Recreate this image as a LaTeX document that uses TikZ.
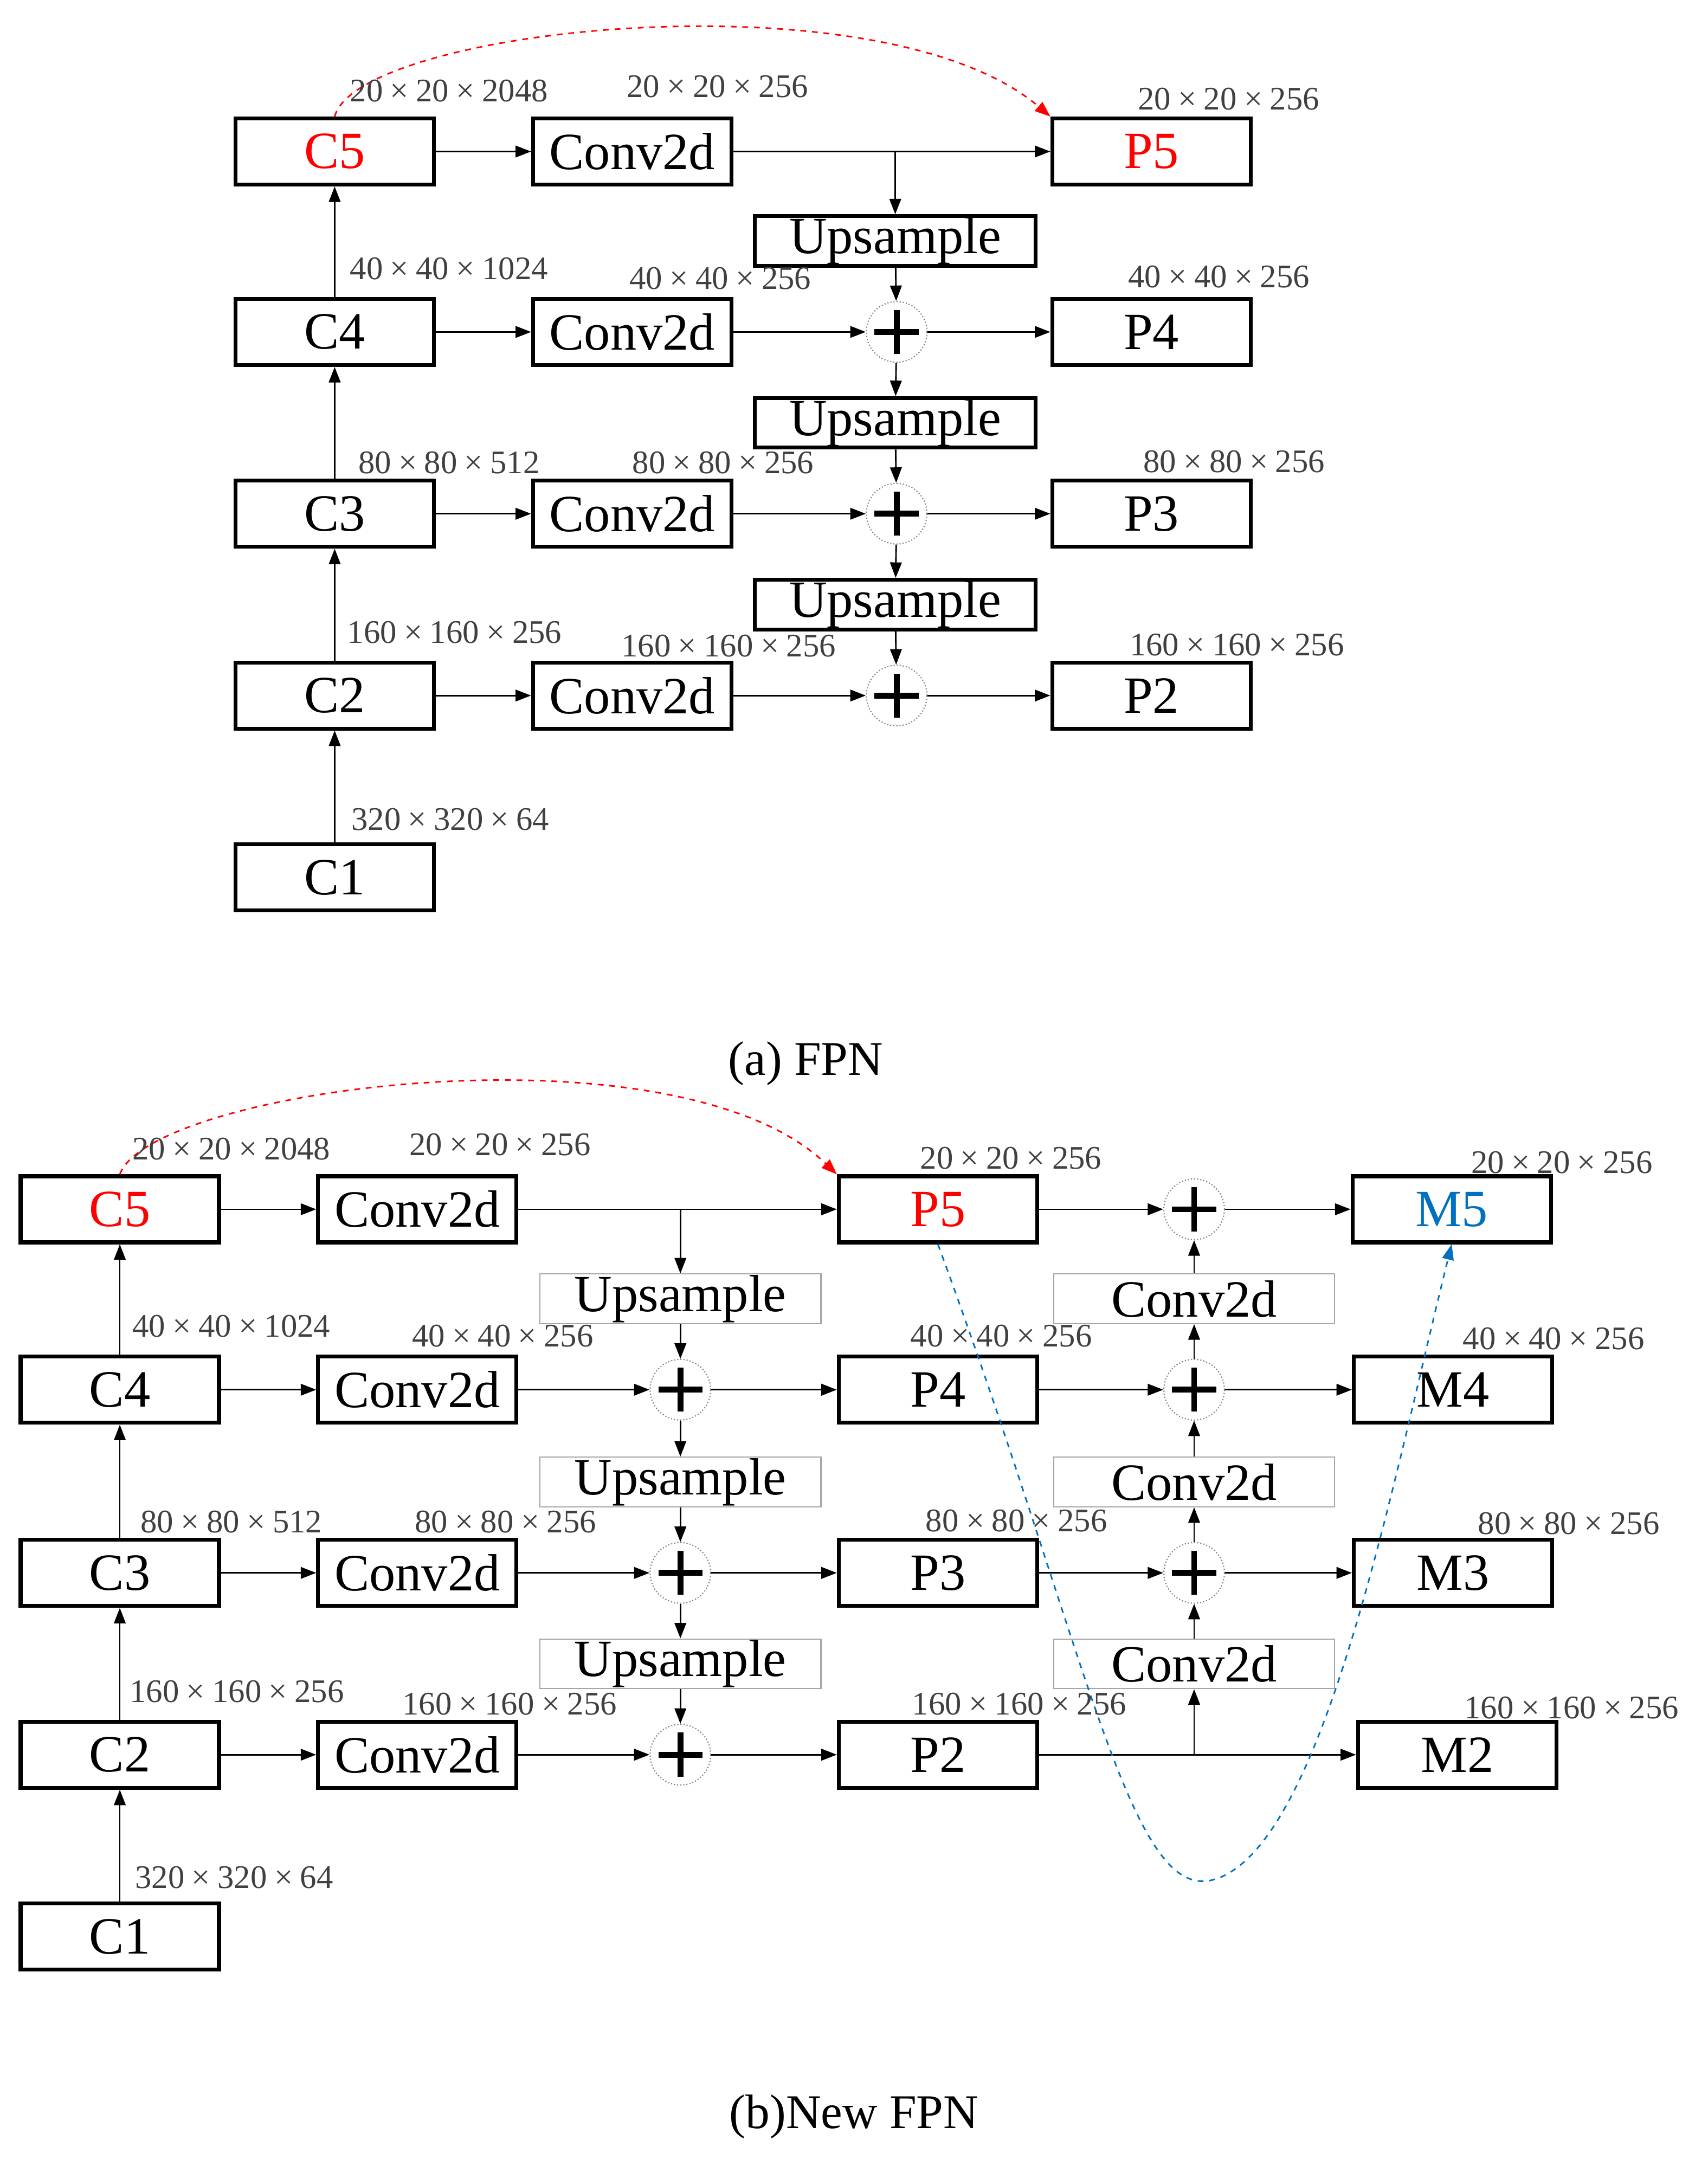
\documentclass[tikz,border=0pt]{standalone}
\usepackage{fontspec}
\setmainfont{Liberation Serif}
\usetikzlibrary{arrows.meta,positioning,calc}
\definecolor{mblue}{RGB}{0,112,192}
\newcommand\tms{\hspace{0.22em}×\hspace{0.22em}}

\begin{document}
\begin{tikzpicture}[
    x=0.025cm, y=-0.025cm,
    box/.style={rectangle, draw=black, line width=2pt, minimum width=3.6cm, minimum height=1.2cm, inner sep=0pt, font=\fontsize{27}{30}\selectfont},
    upbox/.style={rectangle, draw=black, line width=2pt, minimum width=5.1cm, minimum height=0.9cm, inner sep=0pt, font=\fontsize{27}{30}\selectfont},
    gbox/.style={rectangle, draw=gray!70, line width=0.6pt, minimum width=5.1cm, minimum height=0.9cm, inner sep=0pt, font=\fontsize{27}{30}\selectfont},
    plus/.style={circle, draw=gray, densely dotted, line width=0.6pt, minimum size=1.1cm, inner sep=0pt, path picture={
        \draw[line width=3pt, solid, black] ($(path picture bounding box.center)+(-0.4cm,0)$) -- ++(0.8cm,0)
          ($(path picture bounding box.center)+(0,-0.4cm)$) -- ++(0,0.8cm);}},
    dim/.style={font=\fontsize{17}{19}\selectfont, text=black!75, inner sep=0pt},
    arr/.style={-{Triangle[length=8pt,width=6pt]}, line width=0.8pt},
]
\useasboundingbox (0,0) rectangle (1240,1577);

% (a) FPN
\node[box, text=red] (ac5) at (243,110) {C5};
\node[box] (ac4) at (243,241) {C4};
\node[box] (ac3) at (243,373) {C3};
\node[box] (ac2) at (243,505) {C2};
\node[box] (ac1) at (243,637) {C1};
\node[box] (acv5) at (459,110) {Conv2d};
\node[box] (acv4) at (459,241) {Conv2d};
\node[box] (acv3) at (459,373) {Conv2d};
\node[box] (acv2) at (459,505) {Conv2d};
\node[upbox] (aup5) at (650,175) {Upsample};
\node[upbox] (aup4) at (650,307) {Upsample};
\node[upbox] (aup3) at (650,439) {Upsample};
\node[plus] (aadd4) at (651,241) {};
\node[plus] (aadd3) at (651,373) {};
\node[plus] (aadd2) at (651,505) {};
\node[box, text=red] (ap5) at (836,110) {P5};
\node[box] (ap4) at (836,241) {P4};
\node[box] (ap3) at (836,373) {P3};
\node[box] (ap2) at (836,505) {P2};

\draw[arr] (ac1) -- (ac2);
\draw[arr] (ac2) -- (ac3);
\draw[arr] (ac3) -- (ac4);
\draw[arr] (ac4) -- (ac5);
\draw[arr] (ac5) -- (acv5);
\draw[arr] (ac4) -- (acv4);
\draw[arr] (ac3) -- (acv3);
\draw[arr] (ac2) -- (acv2);
\draw[arr] (acv5) -- (ap5);
\draw[arr] (acv5.east -| aup5) -- (aup5);
\draw[arr] (aup5) -- (aadd4);
\draw[arr] (aadd4) -- (aup4);
\draw[arr] (aup4) -- (aadd3);
\draw[arr] (aadd3) -- (aup3);
\draw[arr] (aup3) -- (aadd2);
\draw[arr] (acv4) -- (aadd4);
\draw[arr] (acv3) -- (aadd3);
\draw[arr] (acv2) -- (aadd2);
\draw[arr] (aadd4) -- (ap4);
\draw[arr] (aadd3) -- (ap3);
\draw[arr] (aadd2) -- (ap2);
\draw[arr, red, dashed] (ac5.north) .. controls (260,20) and (640,-20) .. (ap5.north west);

\node[dim] at (326,66) {20\tms20\tms2048};
\node[dim] at (521,63) {20\tms20\tms256};
\node[dim] at (892,72) {20\tms20\tms256};
\node[dim] at (326,195) {40\tms40\tms1024};
\node[dim] at (523,202) {40\tms40\tms256};
\node[dim] at (885,201) {40\tms40\tms256};
\node[dim] at (326,336) {80\tms80\tms512};
\node[dim] at (525,336) {80\tms80\tms256};
\node[dim] at (896,335) {80\tms80\tms256};
\node[dim] at (330,459) {160\tms160\tms256};
\node[dim] at (529,469) {160\tms160\tms256};
\node[dim] at (898,468) {160\tms160\tms256};
\node[dim] at (327,595) {320\tms320\tms64};
\node[font=\fontsize{25}{28}\selectfont] (capa) at (585,772) {(a) FPN};

% (b) New FPN
\node[box, text=red] (bc5) at (87,878) {C5};
\node[box] (bc4) at (87,1009) {C4};
\node[box] (bc3) at (87,1142) {C3};
\node[box] (bc2) at (87,1274) {C2};
\node[box] (bc1) at (87,1406) {C1};
\node[box] (bcv5) at (303,878) {Conv2d};
\node[box] (bcv4) at (303,1009) {Conv2d};
\node[box] (bcv3) at (303,1142) {Conv2d};
\node[box] (bcv2) at (303,1274) {Conv2d};
\node[gbox] (bup5) at (494,943) {Upsample};
\node[gbox] (bup4) at (494,1076) {Upsample};
\node[gbox] (bup3) at (494,1208) {Upsample};
\node[plus] (badd4) at (494,1009) {};
\node[plus] (badd3) at (494,1142) {};
\node[plus] (badd2) at (494,1274) {};
\node[box, text=red] (bp5) at (681,878) {P5};
\node[box] (bp4) at (681,1009) {P4};
\node[box] (bp3) at (681,1142) {P3};
\node[box] (bp2) at (681,1274) {P2};
\node[plus] (madd5) at (867,878) {};
\node[plus] (madd4) at (867,1009) {};
\node[plus] (madd3) at (867,1142) {};
\node[gbox] (mcv5) at (867,943) {Conv2d};
\node[gbox] (mcv4) at (867,1076) {Conv2d};
\node[gbox] (mcv3) at (867,1208) {Conv2d};
\node[box, text=mblue] (bm5) at (1054,878) {M5};
\node[box] (bm4) at (1055,1009) {M4};
\node[box] (bm3) at (1055,1142) {M3};
\node[box] (bm2) at (1058,1274) {M2};
\coordinate (bsplit) at (867,1274);

\draw[arr] (bc1) -- (bc2);
\draw[arr] (bc2) -- (bc3);
\draw[arr] (bc3) -- (bc4);
\draw[arr] (bc4) -- (bc5);
\draw[arr] (bc5) -- (bcv5);
\draw[arr] (bc4) -- (bcv4);
\draw[arr] (bc3) -- (bcv3);
\draw[arr] (bc2) -- (bcv2);
\draw[arr] (bcv5) -- (bp5);
\draw[arr] (bcv5.east -| bup5) -- (bup5);
\draw[arr] (bup5) -- (badd4);
\draw[arr] (badd4) -- (bup4);
\draw[arr] (bup4) -- (badd3);
\draw[arr] (badd3) -- (bup3);
\draw[arr] (bup3) -- (badd2);
\draw[arr] (bcv4) -- (badd4);
\draw[arr] (bcv3) -- (badd3);
\draw[arr] (bcv2) -- (badd2);
\draw[arr] (badd4) -- (bp4);
\draw[arr] (badd3) -- (bp3);
\draw[arr] (badd2) -- (bp2);
\draw[arr] (bp5) -- (madd5);
\draw[arr] (bp4) -- (madd4);
\draw[arr] (bp3) -- (madd3);
\draw[arr] (madd5) -- (bm5);
\draw[arr] (madd4) -- (bm4);
\draw[arr] (madd3) -- (bm3);
\draw[arr] (bp2) -- (bm2);
\draw[arr] (bsplit) -- (mcv3);
\draw[arr] (mcv3) -- (madd3);
\draw[arr] (madd3) -- (mcv4);
\draw[arr] (mcv4) -- (madd4);
\draw[arr] (madd4) -- (mcv5);
\draw[arr] (mcv5) -- (madd5);
\draw[arr, red, dashed] (bc5.north) .. controls (110,790) and (490,740) .. (bp5.north west);
\draw[arr, dashed, mblue] (bp5.south) .. controls (790,1200) and (820,1380) .. (880,1365)
    .. controls (960,1345) and (1010,1080) .. (bm5.south);

\node[dim] at (168,834) {20\tms20\tms2048};
\node[dim] at (363,831) {20\tms20\tms256};
\node[dim] at (734,841) {20\tms20\tms256};
\node[dim] at (1134,844) {20\tms20\tms256};
\node[dim] at (168,963) {40\tms40\tms1024};
\node[dim] at (365,970) {40\tms40\tms256};
\node[dim] at (727,970) {40\tms40\tms256};
\node[dim] at (1128,972) {40\tms40\tms256};
\node[dim] at (168,1105) {80\tms80\tms512};
\node[dim] at (367,1105) {80\tms80\tms256};
\node[dim] at (738,1104) {80\tms80\tms256};
\node[dim] at (1139,1106) {80\tms80\tms256};
\node[dim] at (172,1228) {160\tms160\tms256};
\node[dim] at (370,1237) {160\tms160\tms256};
\node[dim] at (740,1237) {160\tms160\tms256};
\node[dim] at (1141,1240) {160\tms160\tms256};
\node[dim] at (170,1363) {320\tms320\tms64};
\node[font=\fontsize{25}{28}\selectfont] (capb) at (620,1537) {(b)New FPN};

\end{tikzpicture}
\end{document}
